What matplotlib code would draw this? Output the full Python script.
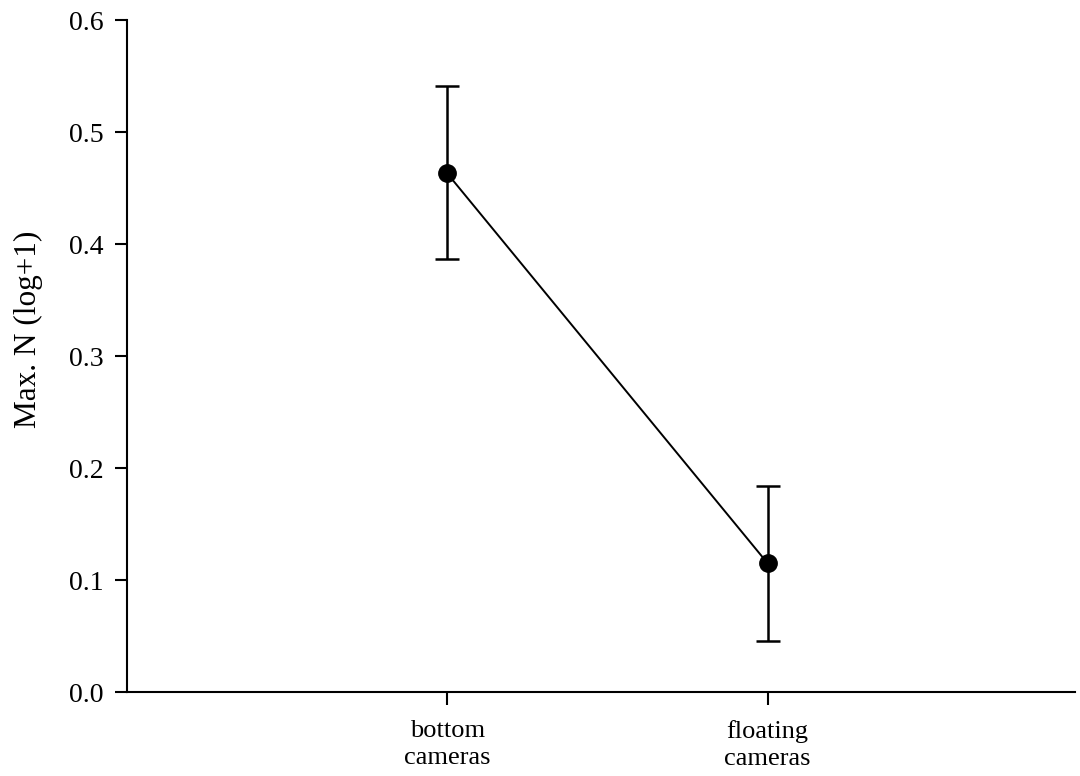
import matplotlib
matplotlib.use("Agg")
import matplotlib.pyplot as plt

plt.rcParams["font.family"] = ["Liberation Serif", "DejaVu Serif"]

categories = ["bottom\ncameras", "floating\ncameras"]
positions = [1, 2]
means = [0.463, 0.115]
err_upper = [0.541, 0.184]
err_lower = [0.387, 0.046]

yerr = [[m - lo for m, lo in zip(means, err_lower)],
        [hi - m for m, hi in zip(means, err_upper)]]

fig = plt.figure(figsize=(10.8, 7.76), dpi=100)
ax = fig.add_axes([0.1176, 0.1082, 0.8778, 0.866])

ax.errorbar(positions, means, yerr=yerr, color="black", marker="o",
            markersize=12.5, linewidth=1.4, elinewidth=1.8, capsize=8.5,
            capthick=1.8)

ax.set_xlim(0, 2.96)
ax.set_ylim(0, 0.6)
ax.set_xticks(positions)
ax.set_xticklabels(categories, linespacing=1.3)
ax.set_yticks([0.0, 0.1, 0.2, 0.3, 0.4, 0.5, 0.6])
ax.set_yticklabels(["0.0", "0.1", "0.2", "0.3", "0.4", "0.5", "0.6"])
ax.set_ylabel("Max. N (log+1)", fontsize=22.5, va="center")
ax.yaxis.set_label_coords(-0.104, 0.54)

for side in ["top", "right"]:
    ax.spines[side].set_visible(False)
for side in ["left", "bottom"]:
    ax.spines[side].set_linewidth(1.5)

ax.tick_params(axis="both", direction="out", length=9, width=1.5,
               labelsize=20, pad=8)
ax.tick_params(axis="x", labelsize=19, pad=11)

fig.savefig("out.png", dpi=100)
